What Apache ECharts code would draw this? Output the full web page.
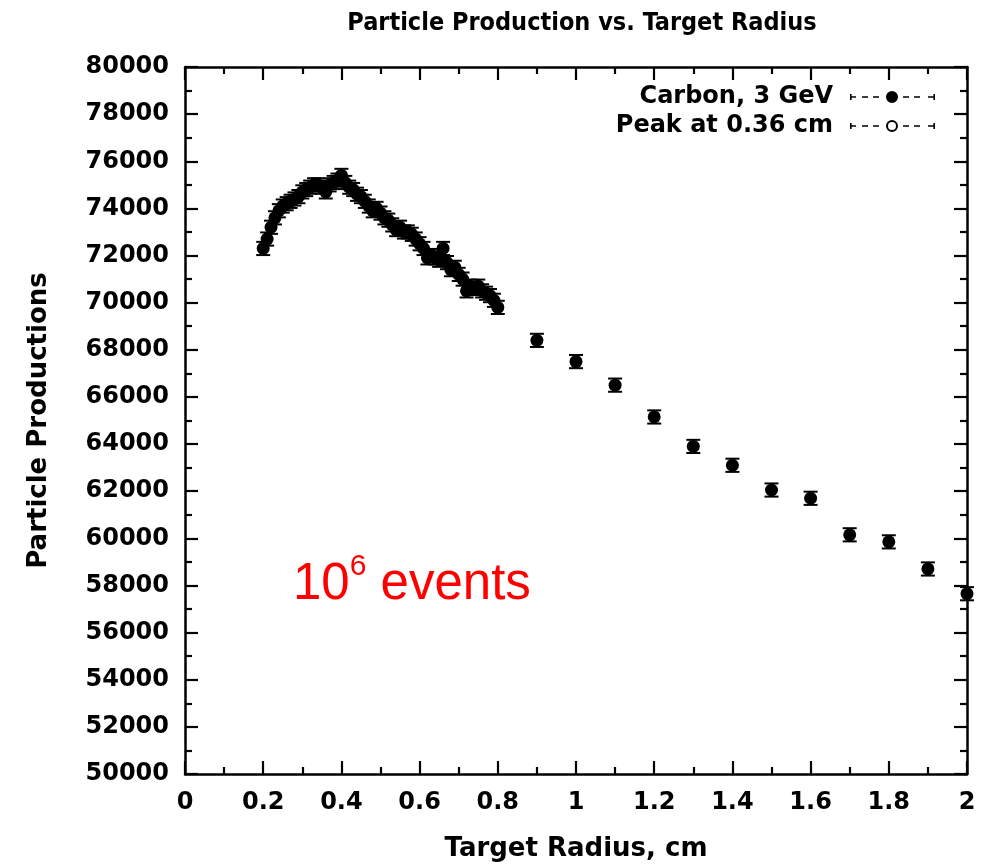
<!DOCTYPE html>
<html>
<head>
<meta charset="utf-8">
<script src="https://cdn.jsdelivr.net/npm/echarts@6/dist/echarts.min.js"></script>
<style>
html,body{margin:0;padding:0;background:#fff;}
#chart{width:983px;height:864px;}
</style>
</head>
<body>
<div id="chart"></div>
<script>
// ---- data ----
const radius = [
  0.20,0.21,0.22,0.23,0.24,0.25,0.26,0.27,0.28,0.29,
  0.30,0.31,0.32,0.33,0.34,0.35,0.36,0.37,0.38,0.39,
  0.40,0.41,0.42,0.43,0.44,0.45,0.46,0.47,0.48,0.49,
  0.50,0.51,0.52,0.53,0.54,0.55,0.56,0.57,0.58,0.59,
  0.60,0.61,0.62,0.63,0.64,0.65,0.66,0.67,0.68,0.69,
  0.70,0.71,0.72,0.73,0.74,0.75,0.76,0.77,0.78,0.79,
  0.80,
  0.9,1.0,1.1,1.2,1.3,1.4,1.5,1.6,1.7,1.8,1.9,2.0
];
const production = [
  72300,72700,73200,73600,73900,74100,74200,74300,74400,74500,
  74700,74800,74900,75000,75000,74900,74700,75000,75100,75200,
  75400,75100,74900,74800,74600,74500,74300,74100,73900,74000,
  73800,73600,73500,73300,73100,73200,73000,73000,72900,72700,
  72500,72300,71900,72000,71900,71800,72300,71700,71400,71500,
  71200,71000,70500,70700,70600,70700,70500,70400,70300,70100,
  69800,
  68400,67500,66500,65150,63900,63100,62050,61700,60150,59850,58700,57650
];
const errorHalf = 280;
const peakRadius = [];
const peakProduction = [];
const xTickLabels = ['0','0.2','0.4','0.6','0.8','1','1.2','1.4','1.6','1.8','2'];
const yTickLabels = ['50000','52000','54000','56000','58000','60000','62000','64000','66000','68000','70000','72000','74000','76000','78000','80000'];
const seriesNames = ['Carbon, 3 GeV','Peak at 0.36 cm'];

const FONT = '"DejaVu Sans", sans-serif';

const carbonPts = radius.map((r,i)=>[r, production[i]]);
const peakPts = peakRadius.map((r,i)=>[r, peakProduction[i]]);

const iconFilled = 'path://M0 3H1.6V9H0Z M1.6 5.3H6V6.7H1.6Z M12 5.3H18V6.7H12Z M23 5.3H29V6.7H23Z ' +
  'M36 6A6 6 0 1 0 48 6A6 6 0 1 0 36 6Z M53 5.3H59V6.7H53Z M64 5.3H70V6.7H64Z M78 5.3H83.4V6.7H78Z M83.4 3H85V9H83.4Z';
const iconOpen = 'path://M0 3H1.6V9H0Z M1.6 5.3H6V6.7H1.6Z M12 5.3H18V6.7H12Z M23 5.3H29V6.7H23Z ' +
  'M36 6A6 6 0 1 0 48 6A6 6 0 1 0 36 6Z M38 6A4 4 0 1 1 46 6A4 4 0 1 1 38 6Z ' +
  'M53 5.3H59V6.7H53Z M64 5.3H70V6.7H64Z M78 5.3H83.4V6.7H78Z M83.4 3H85V9H83.4Z';

const axisCommon = {
  axisLine:{show:true, onZero:false, lineStyle:{color:'#000', width:2.5}},
  axisTick:{show:true, inside:true, length:13, lineStyle:{color:'#000', width:2.2}},
  minorTick:{show:true, splitNumber:2, length:7, lineStyle:{color:'#000', width:2.2}},
  splitLine:{show:false},
  minorSplitLine:{show:false}
};

const chart = echarts.init(document.getElementById('chart'), null, {renderer:'canvas'});
chart.setOption({
  animation:false,
  backgroundColor:'#fff',
  title:[{
    text:'Particle Production vs. Target Radius',
    left:577, top:6, textAlign:'center',
    textStyle:{fontFamily:'"DejaVu Sans Condensed", "DejaVu Sans", sans-serif', fontWeight:'bold', fontSize:25, color:'#000'}
  },{
    text:'{a|10}{b|6}{a| events}',
    left:288, top:547,
    textStyle:{
      fontWeight:'normal',
      rich:{
        a:{fontFamily:'"Liberation Sans", Arial, sans-serif', fontWeight:'normal', fontSize:51, color:'#ff0000', lineHeight:58, verticalAlign:'bottom'},
        b:{fontFamily:'"Liberation Sans", Arial, sans-serif', fontWeight:'normal', fontSize:30, color:'#ff0000', lineHeight:58, verticalAlign:'top'}
      }
    }
  }],
  legend:{
    orient:'vertical', right:43, top:80, align:'right',
    itemWidth:85, itemHeight:12, itemGap:5,
    data:[{name:seriesNames[0], icon:iconFilled},{name:seriesNames[1], icon:iconOpen}],
    textStyle:{fontFamily:FONT, fontWeight:'bold', fontSize:24, color:'#000', padding:[0,12,0,0]},
    selectedMode:false
  },
  grid:{left:185, right:16, top:67, bottom:90, containLabel:false, outerBoundsMode:'none'},
  xAxis:[Object.assign({
    type:'value', min:0, max:2, interval:0.2, position:'bottom',
    name:'Target Radius, cm', nameLocation:'middle', nameGap:62,
    nameTextStyle:{fontFamily:FONT, fontWeight:'bold', fontSize:26, color:'#000'},
    axisLabel:{show:true, margin:17, fontFamily:FONT, fontWeight:'bold', fontSize:24, color:'#000',
      formatter:(v,i)=>xTickLabels[i]}
  }, axisCommon), Object.assign({
    type:'value', min:0, max:2, interval:0.2, position:'top', axisLabel:{show:false}
  }, axisCommon)],
  yAxis:[Object.assign({
    type:'value', min:50000, max:80000, interval:2000, position:'left',
    name:'Particle Productions', nameLocation:'middle', nameGap:133,
    nameTextStyle:{fontFamily:FONT, fontWeight:'bold', fontSize:26, color:'#000'},
    axisLabel:{show:true, margin:16, fontFamily:FONT, fontWeight:'bold', fontSize:24, color:'#000',
      formatter:(v,i)=>yTickLabels[i]}
  }, axisCommon), Object.assign({
    type:'value', min:50000, max:80000, interval:2000, position:'right', axisLabel:{show:false}
  }, axisCommon)],
  series:[{
    name:seriesNames[0], type:'scatter', data:carbonPts, symbol:'circle', symbolSize:13,
    itemStyle:{color:'#000', opacity:1}, z:3
  },{
    name:'errors', type:'custom', data:carbonPts, z:2,
    renderItem:function(params, api){
      const x = api.value(0), y = api.value(1);
      const top = api.coord([x, y + errorHalf]);
      const bot = api.coord([x, y - errorHalf]);
      const cap = 7;
      const st = {stroke:'#000', lineWidth:2};
      return {type:'group', children:[
        {type:'line', shape:{x1:top[0], y1:top[1], x2:bot[0], y2:bot[1]}, style:st},
        {type:'line', shape:{x1:top[0]-cap, y1:top[1], x2:top[0]+cap, y2:top[1]}, style:st},
        {type:'line', shape:{x1:bot[0]-cap, y1:bot[1], x2:bot[0]+cap, y2:bot[1]}, style:st}
      ]};
    }
  },{
    name:seriesNames[1], type:'scatter', data:peakPts, symbol:'emptyCircle', symbolSize:11,
    itemStyle:{color:'#000', opacity:1}
  }]
});
</script>
</body>
</html>
